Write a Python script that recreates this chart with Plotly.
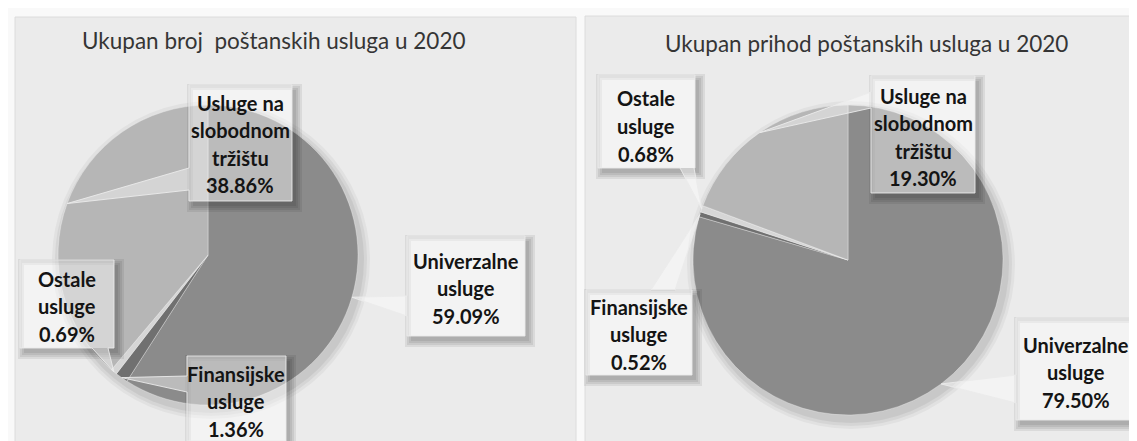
import math
import plotly.graph_objects as go

W, H = 1137, 441

# ---------------- data ----------------
categories = ["Univerzalne usluge", "Finansijske usluge", "Ostale usluge",
              "Usluge na slobodnom tržištu"]
label_lines = [["Univerzalne", "usluge"], ["Finansijske", "usluge"],
               ["Ostale", "usluge"], ["Usluge na", "slobodnom", "tržištu"]]
broj_values = [59.09, 1.36, 0.69, 38.86]      # Ukupan broj (%)
prihod_values = [79.50, 0.52, 0.68, 19.30]    # Ukupan prihod (%)
titles = ["Ukupan broj\u00a0 poštanskih usluga u 2020",
          "Ukupan prihod poštanskih usluga u 2020"]

# ---------------- style / layout ----------------
slice_colors = ["#8b8b8b", "#707070", "#d6d6d6", "#b6b6b6"]
LINE_H = 27.5
FONT_BOX = "Lato"

panels = [(7, 9, 568, 441), (577, 8, 1137, 441)]

pies = [
    dict(values=broj_values, cx=200, cy=247, r=150, title=titles[0], tx=266, ty=33,
         callouts=[
             dict(box=(399, 228, 517, 328), side="left", base=(288, 308), tc=(458, 280)),
             dict(box=(179, 348, 278, 433), side="left", base=(368, 384), tc=(228, 393)),
             dict(box=(12, 252, 106, 340), side="bottom", base=(84, 100), tc=(59, 298)),
             dict(box=(181, 77, 284, 193), side="left", base=(160, 182), tc=(232, 136)),
         ]),
    dict(values=prihod_values, cx=840, cy=252, r=155, title=titles[1], tx=858, ty=36,
         callouts=[
             dict(box=(1008, 310, 1128, 412), side="left", base=(367, 395), tc=(1068, 364)),
             dict(box=(578, 282, 684, 367), side="top", base=(643, 667), tc=(631, 326)),
             dict(box=(590, 67, 687, 160), side="bottom", base=(672, 686), tc=(638, 118)),
             dict(box=(863, 68, 967, 185), side="left", base=(84, 100), tc=(915, 129)),
         ]),
]


def PX(x):
    return x / W


def PY(y):
    return 1 - y / H


def path_of(pts):
    s = "M %.5f %.5f " % (PX(pts[0][0]), PY(pts[0][1]))
    for x, y in pts[1:]:
        s += "L %.5f %.5f " % (PX(x), PY(y))
    return s + "Z"


def callout_poly(box, side, base, tip):
    x0, y0, x1, y1 = box
    a, b = base
    pts = [(x0, y0)]
    if side == "top":
        pts += [(a, y0), tip, (b, y0)]
    pts += [(x1, y0)]
    if side == "right":
        pts += [(x1, a), tip, (x1, b)]
    pts += [(x1, y1)]
    if side == "bottom":
        pts += [(b, y1), tip, (a, y1)]
    pts += [(x0, y1)]
    if side == "left":
        pts += [(x0, b), tip, (x0, a)]
    return pts


fig = go.Figure()
shapes = []
annotations = []

# panel backgrounds
for (x0, y0, x1, y1) in panels:
    shapes.append(dict(type="rect", xref="paper", yref="paper", layer="below",
                       x0=PX(x0), x1=PX(x1), y0=PY(y1), y1=PY(y0),
                       fillcolor="#ebebeb", line=dict(color="#dcdcdc", width=1)))

for p in pies:
    cx, cy, r = p["cx"], p["cy"], p["r"]
    # soft pie shadow
    for e, al in ((9, 0.04), (6, 0.05), (3, 0.06)):
        shapes.append(dict(type="circle", xref="paper", yref="paper", layer="below",
                           x0=PX(cx - r - e + 3), x1=PX(cx + r + e + 3),
                           y0=PY(cy + r + e + 5), y1=PY(cy - r - e + 5),
                           fillcolor="rgba(0,0,0,%.2f)" % al, line=dict(width=0)))
    fig.add_trace(go.Pie(
        values=p["values"], labels=categories, sort=False, direction="clockwise",
        rotation=0, textinfo="none", hoverinfo="skip", showlegend=False,
        marker=dict(colors=slice_colors, line=dict(color="rgba(255,255,255,0.4)", width=0.8)),
        domain=dict(x=[PX(cx - r), PX(cx + r)], y=[PY(cy + r), PY(cy - r)]),
    ))
    # title
    annotations.append(dict(xref="paper", yref="paper", x=PX(p["tx"]), y=PY(p["ty"]),
                            xanchor="center", yanchor="middle", showarrow=False,
                            text=p["title"],
                            font=dict(family="Lato", size=22.5, color="#353535")))
    total = sum(p["values"])
    cum = 0.0
    for i, v in enumerate(p["values"]):
        mid = (cum + v / 2) / total
        cum += v
        ang = 2 * math.pi * mid
        tip = (cx + r * math.sin(ang), cy - r * math.cos(ang))
        c = p["callouts"][i]
        x0, y0, x1, y1 = c["box"]
        # shadow frames around the box
        for e in (0, 2, 4, 6):
            dx, dy = 4, 5
            outer = [(x0 + dx - e, y0 + dy - e), (x1 + dx + e, y0 + dy - e),
                     (x1 + dx + e, y1 + dy + e), (x0 + dx - e, y1 + dy + e)]
            inner = [(x0, y0), (x0, y1), (x1, y1), (x1, y0)]
            shapes.append(dict(type="path", xref="paper", yref="paper", layer="above",
                               path=path_of(outer) + " " + path_of(inner),
                               fillcolor="rgba(0,0,0,0.07)", line=dict(width=0)))
        poly = callout_poly(c["box"], c["side"], c["base"], tip)
        shapes.append(dict(type="path", xref="paper", yref="paper", layer="above",
                           path=path_of(poly),
                           fillcolor="rgba(255,255,255,0.42)",
                           line=dict(color="rgba(235,235,235,0.9)", width=1)))
        lines = label_lines[i] + ["%.2f%%" % v]
        tcx, tcy = c["tc"]
        n = len(lines)
        for k, t in enumerate(lines):
            yy = tcy + (k - (n - 1) / 2) * LINE_H
            annotations.append(dict(xref="paper", yref="paper", x=PX(tcx), y=PY(yy),
                                    xanchor="center", yanchor="middle", showarrow=False,
                                    text="<b>%s</b>" % t,
                                    font=dict(family=FONT_BOX, size=20, color="#141414")))

fig.update_layout(
    width=W, height=H, autosize=False,
    margin=dict(l=0, r=0, t=0, b=0),
    paper_bgcolor="#f9f9f9", plot_bgcolor="#f9f9f9",
    shapes=shapes, annotations=annotations,
)

fig.write_html("out.html")
